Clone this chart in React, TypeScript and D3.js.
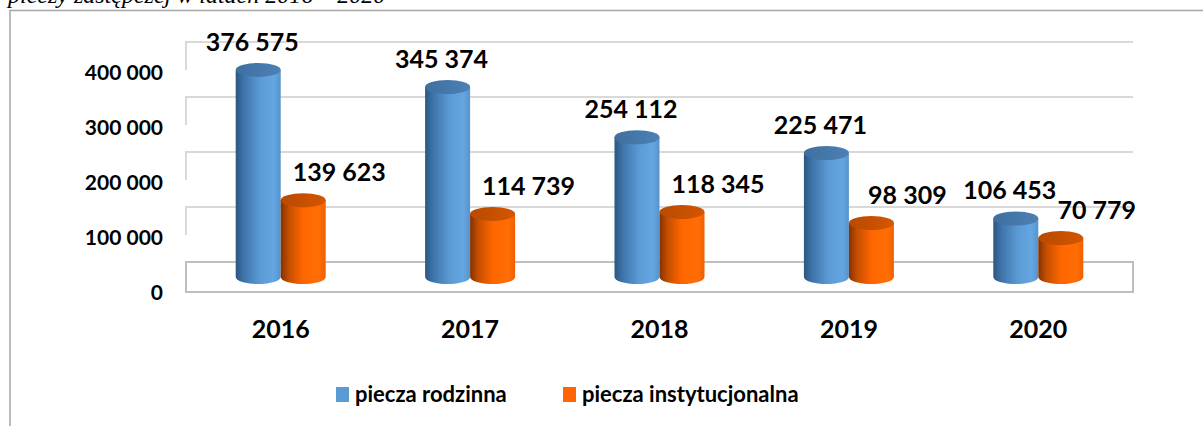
import React from "react";
import * as d3 from "d3";

const categories = ["2016", "2017", "2018", "2019", "2020"];
const seriesNames = ["piecza rodzinna", "piecza instytucjonalna"];
const rodzinna = [376575, 345374, 254112, 225471, 106453];
const instytucjonalna = [139623, 114739, 118345, 98309, 70779];
const tickValues = [0, 100000, 200000, 300000, 400000];
const titleText = "pieczy zastępczej w latach 2016 – 2020";

const W = 1203;
const H = 426;
const FONT = "Lato, 'Open Sans', sans-serif";
const fmt = (v: number) => d3.format(",")(v).replace(/,/g, " ");

export default function App() {
  const left = 186;
  const right = 1133;
  const depth = 30;
  const y = d3.scaleLinear().domain([0, 400000]).range([292, 72]);
  const x = d3.scaleBand().domain(categories).range([left, right]);
  const pairW = 90;
  const inner = d3.scaleBand().domain(seriesNames).range([0, pairW]);
  const rx = inner.bandwidth() / 2;
  const ry = 7;
  const series = [rodzinna, instytucjonalna];
  const grads = ["gBlue", "gOrange"];
  const tops = ["gBlueTop", "gOrangeTop"];

  return (
    <svg width={W} height={H} style={{ position: "absolute", left: 0, top: 0, background: "#fff" }}>
      <defs>
        <linearGradient id="gBlue" x1="0" x2="1" y1="0" y2="0">
          <stop offset="0%" stopColor="#2b5680" />
          <stop offset="18%" stopColor="#3e74aa" />
          <stop offset="55%" stopColor="#5b9bd5" />
          <stop offset="85%" stopColor="#64a6e2" />
          <stop offset="100%" stopColor="#5793cc" />
        </linearGradient>
        <linearGradient id="gOrange" x1="0" x2="1" y1="0" y2="0">
          <stop offset="0%" stopColor="#853200" />
          <stop offset="18%" stopColor="#c44e00" />
          <stop offset="50%" stopColor="#ff6600" />
          <stop offset="85%" stopColor="#ff6d05" />
          <stop offset="100%" stopColor="#f06000" />
        </linearGradient>
        <linearGradient id="gBlueTop" x1="0" x2="1" y1="0" y2="0">
          <stop offset="0%" stopColor="#3f6f9f" />
          <stop offset="100%" stopColor="#4c80b5" />
        </linearGradient>
        <linearGradient id="gOrangeTop" x1="0" x2="1" y1="0" y2="0">
          <stop offset="0%" stopColor="#b84a00" />
          <stop offset="100%" stopColor="#d45600" />
        </linearGradient>
      </defs>

      {/* frame */}
      <rect x={10} y={10.5} width={1220} height={440} fill="none" stroke="#aaaaaa" strokeWidth={1.6} />

      {/* title (cut off at the top edge, as in the source) */}
      <text x={8} y={3} fontFamily="'Liberation Serif', 'Times New Roman', serif" fontStyle="italic" fontSize={24} fill="#000">
        {titleText}
      </text>

      {/* gridlines: side wall + back wall */}
      {tickValues.slice(1).map((t) => {
        const yb = y(t) - depth;
        return (
          <g key={t} stroke="#d9d9d9" strokeWidth={2} fill="none">
            <path d={`M${left},${yb + depth - 2} L${left},${yb} L${right},${yb}`} />
          </g>
        );
      })}
      {/* floor */}
      <rect x={left} y={y(0) - depth} width={right - left} height={depth} fill="none" stroke="#bfbfbf" strokeWidth={2} />

      {/* tick labels */}
      {tickValues.map((t) => (
        <text key={t} x={163} y={y(t) + 8} textAnchor="end" fontFamily={FONT} fontWeight={700} fontSize={21} fill="#000">
          {fmt(t)}
        </text>
      ))}

      {/* cylinders */}
      {categories.map((c, i) => {
        const bx = (x(c) as number) + (x.bandwidth() - pairW) / 2;
        return (
          <g key={c}>
            {series.map((s, si) => {
              const x0 = bx + (inner(seriesNames[si]) as number);
              const x1 = x0 + inner.bandwidth();
              const cx = (x0 + x1) / 2;
              const yBase = y(0) - depth / 2;
              const yTop = y(s[i]) - depth / 2;
              const body = `M${x0},${yTop} L${x0},${yBase} A${rx},${ry} 0 0 0 ${x1},${yBase} L${x1},${yTop} Z`;
              return (
                <g key={si}>
                  <path d={body} fill={`url(#${grads[si]})`} />
                  <ellipse cx={cx} cy={yTop} rx={rx} ry={ry} fill={`url(#${tops[si]})`} />
                </g>
              );
            })}
          </g>
        );
      })}

      {/* data labels */}
      {categories.map((c, i) => {
        const bx = (x(c) as number) + (x.bandwidth() - pairW) / 2;
        return series.map((s, si) => {
          const x0 = bx + (inner(seriesNames[si]) as number);
          const cx = x0 + inner.bandwidth() / 2 + (si === 1 ? 36 : -6);
          const yTop = y(s[i]) - depth / 2 - ry;
          return (
            <text key={c + si} x={cx} y={yTop - 12} textAnchor="middle" fontFamily={FONT} fontWeight={700} fontSize={25} fill="#000">
              {fmt(s[i])}
            </text>
          );
        });
      })}

      {/* category labels */}
      {categories.map((c) => (
        <text key={c} x={(x(c) as number) + x.bandwidth() / 2} y={338} textAnchor="middle" fontFamily={FONT} fontWeight={700} fontSize={25} fill="#000">
          {c}
        </text>
      ))}

      {/* legend */}
      {seriesNames.map((n, i) => {
        const lx = i === 0 ? 336 : 563;
        return (
          <g key={n}>
            <rect x={lx} y={387} width={13} height={15} fill={i === 0 ? "#5b9bd5" : "#ff6600"} />
            <text x={lx + 19} y={402} fontFamily={FONT} fontWeight={700} fontSize={22} fill="#000">
              {n}
            </text>
          </g>
        );
      })}
    </svg>
  );
}
